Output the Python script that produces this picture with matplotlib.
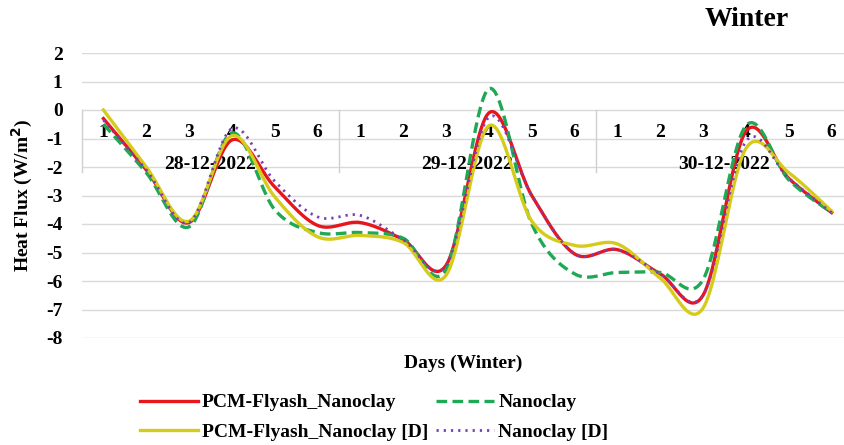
import numpy as np
import matplotlib.pyplot as plt
from matplotlib.lines import Line2D

# dữ liệu (W/m2), 6 mốc mỗi ngày
days = ["28-12-2022", "29-12-2022", "30-12-2022"]
slots = ["1", "2", "3", "4", "5", "6"]

pcm_flyash = [-0.3, -2.1, -3.95, -1.05, -2.7, -4.05,
              -3.95, -4.55, -5.45, -0.1, -3.0, -5.05,
              -4.9, -5.75, -6.5, -0.75, -2.4, -3.6]
nanoclay = [-0.5, -2.2, -4.1, -0.8, -3.5, -4.3,
            -4.3, -4.5, -5.6, 0.75, -4.0, -5.75,
            -5.7, -5.7, -5.95, -0.55, -2.45, -3.6]
pcm_flyash_d = [0.0, -2.0, -3.9, -0.9, -3.05, -4.45,
                -4.4, -4.65, -5.8, -0.55, -3.9, -4.75,
                -4.7, -5.9, -6.95, -1.35, -2.2, -3.55]
nanoclay_d = [-0.35, -2.1, -3.95, -0.65, -2.5, -3.75,
              -3.7, -4.55, -5.45, -0.25, -3.0, -5.05,
              -4.9, -5.75, -6.5, -1.1, -2.4, -3.6]

yticks = list(range(-8, 3))


def smooth(x, y, n=24):
    # duong cong kieu "smoothed line" cua Excel (Catmull-Rom -> Bezier)
    x = np.asarray(x, float)
    y = np.asarray(y, float)
    px, py = [], []
    t = np.linspace(0, 1, n)
    for i in range(len(x) - 1):
        i0 = max(i - 1, 0)
        i3 = min(i + 2, len(x) - 1)
        for arr, out in ((x, px), (y, py)):
            p0, p1, p2, p3 = arr[i0], arr[i], arr[i + 1], arr[i3]
            c1 = p1 + (p2 - p0) / 6
            c2 = p2 - (p3 - p1) / 6
            b = ((1 - t) ** 3 * p1 + 3 * (1 - t) ** 2 * t * c1
                 + 3 * (1 - t) * t ** 2 * c2 + t ** 3 * p2)
            out.extend(b if i == 0 else b[1:])
    return np.array(px), np.array(py)


plt.rcParams['font.family'] = 'Liberation Serif'
plt.rcParams['font.weight'] = 'bold'
plt.rcParams['axes.unicode_minus'] = False

fig = plt.figure(figsize=(8.44, 4.45), dpi=100)
ax = fig.add_axes([82 / 844, 1 - 338 / 445, 771 / 844, 285 / 445])

n = len(pcm_flyash)
xs = np.arange(n) + 0.5

series = [
    (pcm_flyash, "PCM-Flyash_Nanoclay", '#E8161C', '-', 2.4),
    (nanoclay, "Nanoclay", '#1FA855', (0, (3.2, 1.6)), 2.4),
    (pcm_flyash_d, "PCM-Flyash_Nanoclay [D]", '#D5CB1B', '-', 2.4),
    (nanoclay_d, "Nanoclay [D]", '#7A3DB8', (0, (0.8, 1.8)), 2.0),
]
handles = []
for vals, name, col, ls, lw in series:
    sx, sy = smooth(xs, vals)
    ax.plot(sx, sy, color=col, linestyle=ls, linewidth=lw, zorder=3)
    handles.append(Line2D([], [], color=col, linestyle=ls, linewidth=lw, label=name))

ax.set_xlim(0, n)
ax.set_ylim(-8, 2)
ax.set_yticks(yticks)
ax.set_xticks([])
ax.grid(True, axis='y', color='#D9D9D9', linewidth=1.0)
ax.set_axisbelow(True)
for s in ax.spines.values():
    s.set_visible(False)
ax.tick_params(axis='y', length=0, pad=14, labelsize=14)

# truc phan loai (mốc + ngày) nằm tại y = 0
for k in range(len(days) + 1):
    ax.plot([6 * k, 6 * k], [0, -2.17], color='#D0D0D0', linewidth=1.0, zorder=1,
            clip_on=False)
for i in range(n):
    ax.text(xs[i], -0.8, slots[i % 6], ha='center', va='center', fontsize=14,
            fontweight='bold', zorder=2)
for k, d in enumerate(days):
    ax.text(6 * k + 3, -1.9, d, ha='center', va='center', fontsize=14,
            fontweight='bold', zorder=2)

fig.text(22 / 844, 1 - 195 / 445, "Heat Flux (W/m$^\\mathbf{2}$)", rotation=90,
         ha='center', va='center', fontsize=14, fontweight='bold')
fig.text(463 / 844, 1 - 363 / 445, "Days (Winter)", ha='center', va='center',
         fontsize=14, fontweight='bold')
fig.text(747 / 844, 1 - 19 / 445, "Winter", ha='center', va='center',
         fontsize=20, fontweight='bold')

order = [handles[0], handles[2], handles[1], handles[3]]
fig.legend(handles=order, ncol=2, loc='upper left',
           bbox_to_anchor=(130 / 844, 1 - 384 / 445), frameon=False,
           fontsize=14, handlelength=3.0, handletextpad=0.2,
           columnspacing=0.4, labelspacing=0.62, borderpad=0)

fig.savefig("out.png", dpi=100)
